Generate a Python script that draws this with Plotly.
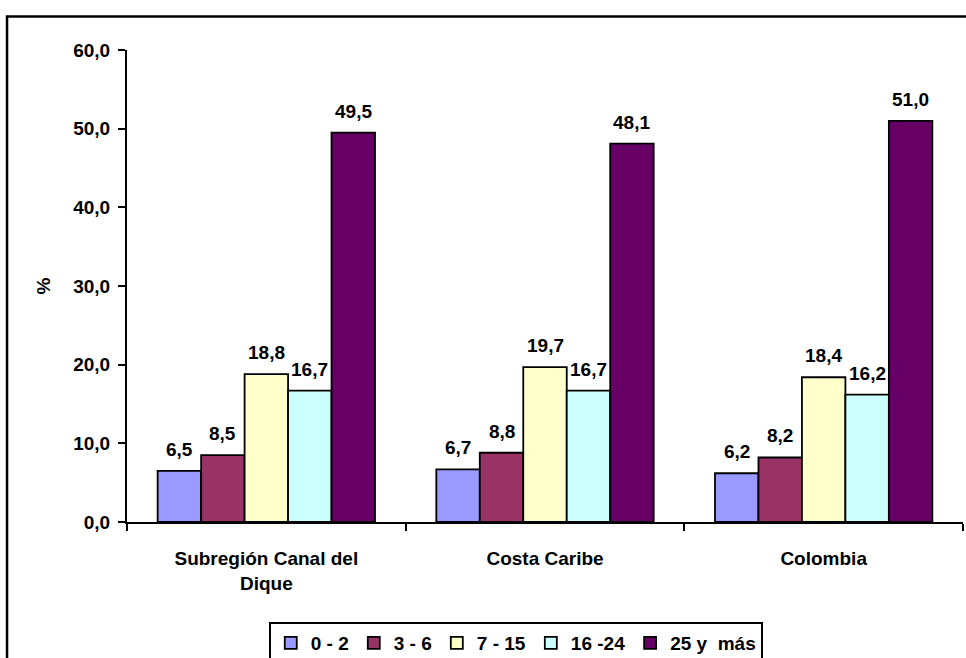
import plotly.graph_objects as go

categories = ["Subregión Canal del<br>Dique", "Costa Caribe", "Colombia"]
series_names = ["0 - 2", "3 - 6", "7 - 15", "16 -24", "25 y  más"]
values_0_2 = [6.5, 6.7, 6.2]
values_3_6 = [8.5, 8.8, 8.2]
values_7_15 = [18.8, 19.7, 18.4]
values_16_24 = [16.7, 16.7, 16.2]
values_25_mas = [49.5, 48.1, 51.0]
colors = ["#9999FF", "#993366", "#FFFFCC", "#CCFFFF", "#660066"]

all_values = [values_0_2, values_3_6, values_7_15, values_16_24, values_25_mas]

FONT = "Liberation Sans, Arial, sans-serif"
FS = 19

W, H = 966, 658
ML, MR, MT, MB = 127, 3, 50, 136
BARGAP = 0.22

fig = go.Figure()
for name, vals, col in zip(series_names, all_values, colors):
    fig.add_trace(go.Bar(
        x=categories, y=vals, name=name,
        marker=dict(color=col, line=dict(color="black", width=1.8)),
    ))

# value labels placed above each grouped bar (offset = bar slot within the group)
plot_w = W - ML - MR
cat_w = plot_w / len(categories)
bar_w = cat_w * (1 - BARGAP) / len(series_names)
n = len(series_names)
annotations = []
for i, vals in enumerate(all_values):
    dx = (i - (n - 1) / 2) * bar_w
    for c, v in zip(categories, vals):
        annotations.append(dict(
            x=c, y=v, xref="x", yref="y", xshift=dx, yshift=9,
            text=f"{v:.1f}".replace(".", ","), showarrow=False,
            yanchor="bottom", xanchor="center",
            font=dict(family=FONT, size=FS, color="black", weight="bold"),
        ))

fig.update_layout(
    width=W, height=H,
    margin=dict(l=ML, r=MR, t=MT, b=MB, autoexpand=False),
    paper_bgcolor="white", plot_bgcolor="white",
    barmode="group", bargap=BARGAP, bargroupgap=0,
    separators=",.",
    font=dict(family=FONT, size=FS, color="black", weight="bold"),
    showlegend=True,
    legend=dict(
        orientation="h", x=0.465, xanchor="center", y=-0.212, yanchor="top",
        bordercolor="black", borderwidth=2, bgcolor="white",
        font=dict(family=FONT, size=FS, color="black", weight="bold"),
        itemwidth=30, tracegroupgap=0,
    ),
    xaxis=dict(
        automargin=False,
        showline=True, linecolor="black", linewidth=2,
        ticks="outside", tickson="boundaries", ticklen=7, tickwidth=2, tickcolor="black",
        tickfont=dict(family=FONT, size=FS, color="black", weight="bold"),
        ticklabelstandoff=18,
        showgrid=False,
    ),
    yaxis=dict(
        automargin=False,
        range=[0, 60], dtick=10, tickformat=".1f",
        showline=True, linecolor="black", linewidth=2,
        ticks="outside", ticklen=7, tickwidth=2, tickcolor="black",
        tickfont=dict(family=FONT, size=FS, color="black", weight="bold"),
        ticklabelstandoff=4,
        showgrid=False, zeroline=False,
        title=dict(text="%", standoff=18, font=dict(family=FONT, size=FS, color="black", weight="bold")),
    ),
    annotations=annotations,
    shapes=[dict(
        type="rect", xref="paper", yref="paper",
        x0=-0.1435, x1=1.2, y0=-0.5, y1=1.071,
        line=dict(color="black", width=2.5), fillcolor="rgba(0,0,0,0)", layer="below",
    )],
)

fig.write_html(
    "out.html",
    config={"displayModeBar": False},
    post_script="document.body.style.margin='0';document.body.style.overflow='hidden';",
)
